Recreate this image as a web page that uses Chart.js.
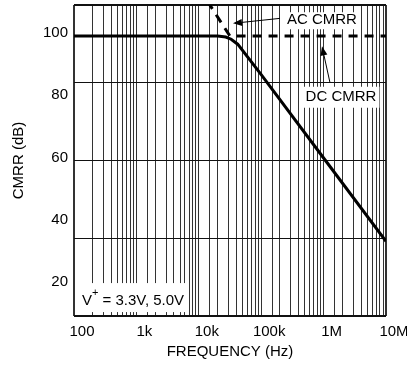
<!DOCTYPE html>
<html>
<head>
<meta charset="utf-8">
<script src="https://cdn.jsdelivr.net/npm/chart.js@4"></script>
<style>
  html, body { margin: 0; padding: 0; background: #fff; }
  #wrap { width: 407px; height: 368px; }
</style>
</head>
<body>
<div id="wrap"><canvas id="cmrrChart" width="407" height="368"></canvas></div>
<script>
// DC CMRR (solid) - frequency in Hz, CMRR in dB
const dcFreq = [100, 1000, 10000, 20000, 27000, 33000, 42000, 100000, 1000000, 10000000];
const dcCmrr = [100, 100, 100, 100, 99.7, 99.0, 97.4, 87.6, 60.8, 34];

// AC CMRR (dashed)
const acFreq = [10000, 31600, 10000000];
const acCmrr = [115.5, 100, 100];

// axis ticks
const xTickValues = [100, 1000, 10000, 100000, 1000000, 10000000];
const xTickLabels = ['100', '1k', '10k', '100k', '1M', '10M'];
const yLabelTicks = [20, 40, 60, 80, 100];
const yGridTicks = [10, 35, 60, 85, 110];

const FONT = '"Liberation Sans", Arial, sans-serif';

function toPoints(xs, ys) {
    return xs.map((v, i) => ({ x: v, y: ys[i] }));
}

function isMajorX(v) {
    return xTickValues.findIndex(t => Math.abs(v - t) < t * 1e-6);
}

function drawArrow(ctx, x1, y1, x2, y2) {
    const ang = Math.atan2(y2 - y1, x2 - x1);
    const len = 9, half = 3.5;
    const bx = x2 - len * Math.cos(ang), by = y2 - len * Math.sin(ang);
    ctx.beginPath();
    ctx.moveTo(x1, y1);
    ctx.lineTo(bx, by);
    ctx.lineWidth = 1;
    ctx.strokeStyle = '#000';
    ctx.stroke();
    ctx.beginPath();
    ctx.moveTo(x2, y2);
    ctx.lineTo(bx + half * Math.sin(ang), by - half * Math.cos(ang));
    ctx.lineTo(bx - half * Math.sin(ang), by + half * Math.cos(ang));
    ctx.closePath();
    ctx.fillStyle = '#000';
    ctx.fill();
}

function boxedText(ctx, text, left, cy, padX, padTop, padBottom) {
    const w = ctx.measureText(text).width;
    ctx.fillStyle = '#fff';
    ctx.fillRect(left - padX, cy - padTop, w + padX * 2, padTop + padBottom);
    ctx.fillStyle = '#000';
    ctx.fillText(text, left, cy);
    return w;
}

// annotation labels and arrows, placed in data coordinates
const notesPlugin = {
    id: 'notes',
    afterDraw(chart) {
        const { ctx, scales: { x, y } } = chart;
        ctx.save();
        ctx.font = '15px ' + FONT;
        ctx.textBaseline = 'middle';
        ctx.textAlign = 'left';

        // AC CMRR
        boxedText(ctx, 'AC CMRR', x.getPixelForValue(258000), y.getPixelForValue(105.1), 2, 8, 9);
        drawArrow(ctx, x.getPixelForValue(200000), y.getPixelForValue(105.7),
            x.getPixelForValue(35300), y.getPixelForValue(104.1));

        // DC CMRR
        const dcW = ctx.measureText('DC CMRR').width;
        const dcX = x.getPixelForValue(1900000) - dcW / 2;
        boxedText(ctx, 'DC CMRR', dcX, y.getPixelForValue(80.5), 3, 10, 11);
        drawArrow(ctx, x.getPixelForValue(1260000), y.getPixelForValue(85.2),
            x.getPixelForValue(943000), y.getPixelForValue(96.7));

        // supply note
        const vx = x.getPixelForValue(134), vy = y.getPixelForValue(14.8);
        const rest = ' = 3.3V, 5.0V';
        const wV = ctx.measureText('V').width;
        ctx.font = '11px ' + FONT;
        const wPlus = ctx.measureText('+').width;
        ctx.font = '15px ' + FONT;
        const wRest = ctx.measureText(rest).width;
        ctx.fillStyle = '#fff';
        ctx.fillRect(vx - 6, vy - 18, wV + wPlus + wRest + 9, 29);
        ctx.fillStyle = '#000';
        ctx.fillText('V', vx, vy);
        ctx.fillText(rest, vx + wV + wPlus, vy);
        ctx.font = '11px ' + FONT;
        ctx.fillText('+', vx + wV, vy - 8);
        ctx.restore();
    }
};

const el = document.getElementById('cmrrChart');
if (el) {
    new Chart(el, {
        type: 'line',
        data: {
            datasets: [{
                label: 'DC CMRR',
                data: toPoints(dcFreq, dcCmrr),
                borderColor: '#000',
                borderWidth: 3,
                pointRadius: 0,
                tension: 0,
                fill: false
            }, {
                label: 'AC CMRR',
                data: toPoints(acFreq, acCmrr),
                borderColor: '#000',
                borderWidth: 3,
                borderDash: [9, 7],
                pointRadius: 0,
                tension: 0,
                fill: false
            }]
        },
        options: {
            responsive: false,
            animation: false,
            devicePixelRatio: 1,
            layout: { padding: { top: 5, right: 21, left: 0, bottom: 0 } },
            plugins: {
                legend: { display: false },
                tooltip: { enabled: false }
            },
            scales: {
                x: {
                    type: 'logarithmic',
                    min: 100,
                    max: 10000000,
                    border: { display: false },
                    grid: {
                        drawTicks: false,
                        color: '#333',
                        lineWidth: c => (c.tick && (isMajorX(c.tick.value) === 0 || isMajorX(c.tick.value) === 5)) ? 2 : 1
                    },
                    ticks: {
                        autoSkip: false,
                        maxRotation: 0,
                        padding: 7,
                        labelOffset: 8,
                        color: '#000',
                        font: { family: FONT, size: 15 },
                        callback: v => {
                            const i = isMajorX(v);
                            return i >= 0 ? xTickLabels[i] : '';
                        }
                    },
                    title: {
                        display: true,
                        text: 'FREQUENCY (Hz)',
                        color: '#000',
                        font: { family: FONT, size: 15 },
                        padding: { top: 0, bottom: 7 }
                    },
                    afterFit: s => {
                        s.height = 52;
                        s.paddingLeft = 0;
                        s.paddingRight = 0;
                    }
                },
                y: {
                    min: 10,
                    max: 110,
                    border: { display: false },
                    afterBuildTicks: s => {
                        const vals = Array.from(new Set(yLabelTicks.concat(yGridTicks))).sort((a, b) => a - b);
                        s.ticks = vals.map(v => ({ value: v }));
                    },
                    grid: {
                        drawTicks: false,
                        color: c => (c.tick && yGridTicks.includes(c.tick.value)) ? '#111' : 'rgba(0,0,0,0)',
                        lineWidth: c => (c.tick && (c.tick.value === 10 || c.tick.value === 110)) ? 2 : 1
                    },
                    ticks: {
                        autoSkip: false,
                        padding: 6,
                        labelOffset: -3,
                        color: '#000',
                        font: { family: FONT, size: 15 },
                        callback: v => yLabelTicks.includes(v) ? String(v) : ''
                    },
                    title: {
                        display: true,
                        text: 'CMRR (dB)',
                        color: '#000',
                        font: { family: FONT, size: 15 },
                        padding: { top: 10, bottom: 0 }
                    },
                    afterFit: s => {
                        s.width = 74;
                        s.paddingTop = 0;
                        s.paddingBottom = 0;
                    }
                }
            }
        },
        plugins: [notesPlugin]
    });
}
</script>
</body>
</html>
